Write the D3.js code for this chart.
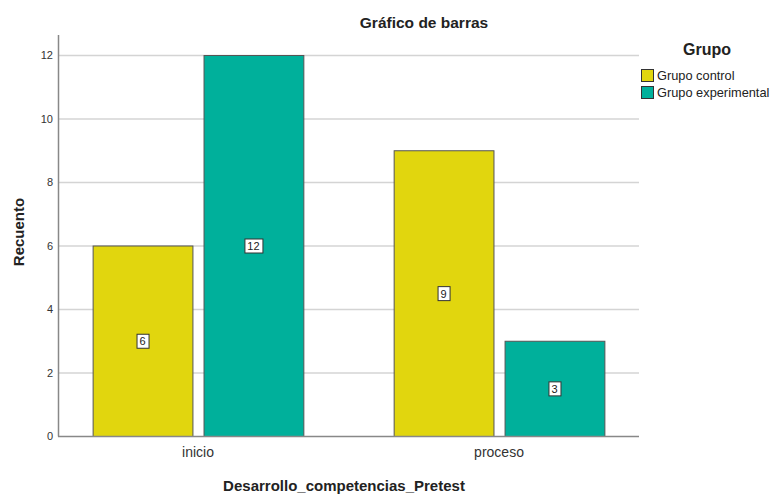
<!DOCTYPE html>
<html>
<head>
<meta charset="utf-8">
<script src="https://cdn.jsdelivr.net/npm/d3@7"></script>
<style>
  html, body { margin: 0; padding: 0; background: #fff; }
  svg { display: block; font-family: "Liberation Sans", Arial, sans-serif; }
</style>
</head>
<body>
<svg id="chart" width="774" height="496"></svg>
<script>
// Recuento por nivel de desarrollo y grupo
const categories = ["inicio", "proceso"];
const series = ["Grupo control", "Grupo experimental"];
const controlValues = [6, 9];
const experimentalValues = [12, 3];
const yTicks = [0, 2, 4, 6, 8, 10, 12];

const colors = { "Grupo control": "#e1d60e", "Grupo experimental": "#00b09b" };
const valuesBySeries = { "Grupo control": controlValues, "Grupo experimental": experimentalValues };

const svg = d3.select("#chart");
const plot = { left: 58, right: 639, top: 35, bottom: 436 };

const x = d3.scaleBand()
  .domain(categories)
  .range([plot.left, plot.right])
  .paddingInner(0.3)
  .paddingOuter(0.115);

const xInner = d3.scaleBand()
  .domain(series)
  .range([0, x.bandwidth()])
  .paddingInner(0.1);

const y = d3.scaleLinear()
  .domain([0, 12])
  .range([plot.bottom, plot.bottom - 12 * 31.75]);

// Gridlines
svg.append("g")
  .selectAll("line")
  .data(yTicks.filter(d => d > 0))
  .join("line")
  .attr("x1", plot.left)
  .attr("x2", plot.right)
  .attr("y1", d => y(d) + 0.5)
  .attr("y2", d => y(d) + 0.5)
  .attr("stroke", "#d4d4d4")
  .attr("stroke-width", 1.5);

// Y tick labels
svg.append("g")
  .selectAll("text")
  .data(yTicks)
  .join("text")
  .attr("x", plot.left - 5)
  .attr("y", d => y(d) + 4)
  .attr("text-anchor", "end")
  .attr("font-size", 11)
  .attr("fill", "#333")
  .text(d => d);

// Bars
const rows = [];
categories.forEach((c, i) => {
  series.forEach(s => rows.push({ cat: c, series: s, value: valuesBySeries[s][i] }));
});

svg.append("g")
  .selectAll("rect")
  .data(rows)
  .join("rect")
  .attr("x", d => x(d.cat) + xInner(d.series) + 0.5)
  .attr("y", d => y(d.value) + 0.5)
  .attr("width", xInner.bandwidth())
  .attr("height", d => y(0) - y(d.value))
  .attr("fill", d => colors[d.series])
  .attr("stroke", "#555")
  .attr("stroke-width", 1);

// Value labels in boxes
const labels = svg.append("g")
  .selectAll("g")
  .data(rows)
  .join("g")
  .attr("transform", d => `translate(${x(d.cat) + xInner(d.series) + xInner.bandwidth() / 2},${y(d.value / 2)})`);

labels.append("rect")
  .attr("x", d => -(String(d.value).length * 3 + 3) + 0.5)
  .attr("y", -7 + 0.5)
  .attr("width", d => String(d.value).length * 6 + 6)
  .attr("height", 14)
  .attr("fill", "#fff")
  .attr("stroke", "#333")
  .attr("stroke-width", 1);

labels.append("text")
  .attr("text-anchor", "middle")
  .attr("y", 4.5)
  .attr("font-size", 11)
  .attr("fill", "#222")
  .text(d => d.value);

// Axis lines
svg.append("line")
  .attr("x1", plot.left + 0.5).attr("x2", plot.left + 0.5)
  .attr("y1", plot.top).attr("y2", plot.bottom + 0.5)
  .attr("stroke", "#888").attr("stroke-width", 1.5);
svg.append("line")
  .attr("x1", plot.left).attr("x2", plot.right)
  .attr("y1", plot.bottom + 0.5).attr("y2", plot.bottom + 0.5)
  .attr("stroke", "#888").attr("stroke-width", 1.5);

// X category labels
svg.append("g")
  .selectAll("text")
  .data(categories)
  .join("text")
  .attr("x", d => x(d) + x.bandwidth() / 2)
  .attr("y", 457)
  .attr("text-anchor", "middle")
  .attr("font-size", 14)
  .attr("fill", "#333")
  .text(d => d);

// Titles
svg.append("text")
  .attr("x", 424).attr("y", 28)
  .attr("text-anchor", "middle")
  .attr("font-size", 15.5).attr("font-weight", "bold")
  .attr("fill", "#222")
  .text("Gráfico de barras");

svg.append("text")
  .attr("x", 344).attr("y", 491)
  .attr("text-anchor", "middle")
  .attr("font-size", 15).attr("font-weight", "bold")
  .attr("fill", "#222")
  .text("Desarrollo_competencias_Pretest");

svg.append("text")
  .attr("transform", "translate(24,232) rotate(-90)")
  .attr("text-anchor", "middle")
  .attr("font-size", 15).attr("font-weight", "bold")
  .attr("fill", "#222")
  .text("Recuento");

// Legend
const legend = svg.append("g");
legend.append("text")
  .attr("x", 707).attr("y", 55)
  .attr("text-anchor", "middle")
  .attr("font-size", 16).attr("font-weight", "bold")
  .attr("fill", "#222")
  .text("Grupo");

const items = legend.selectAll("g.item")
  .data(series)
  .join("g")
  .attr("class", "item")
  .attr("transform", (d, i) => `translate(641,${69 + i * 17})`);

items.append("rect")
  .attr("x", 0.5).attr("y", 0.5)
  .attr("width", 12).attr("height", 12)
  .attr("fill", d => colors[d])
  .attr("stroke", "#333");

items.append("text")
  .attr("x", 16).attr("y", 11)
  .attr("font-size", 12.8)
  .attr("fill", "#222")
  .text(d => d);
</script>
</body>
</html>
